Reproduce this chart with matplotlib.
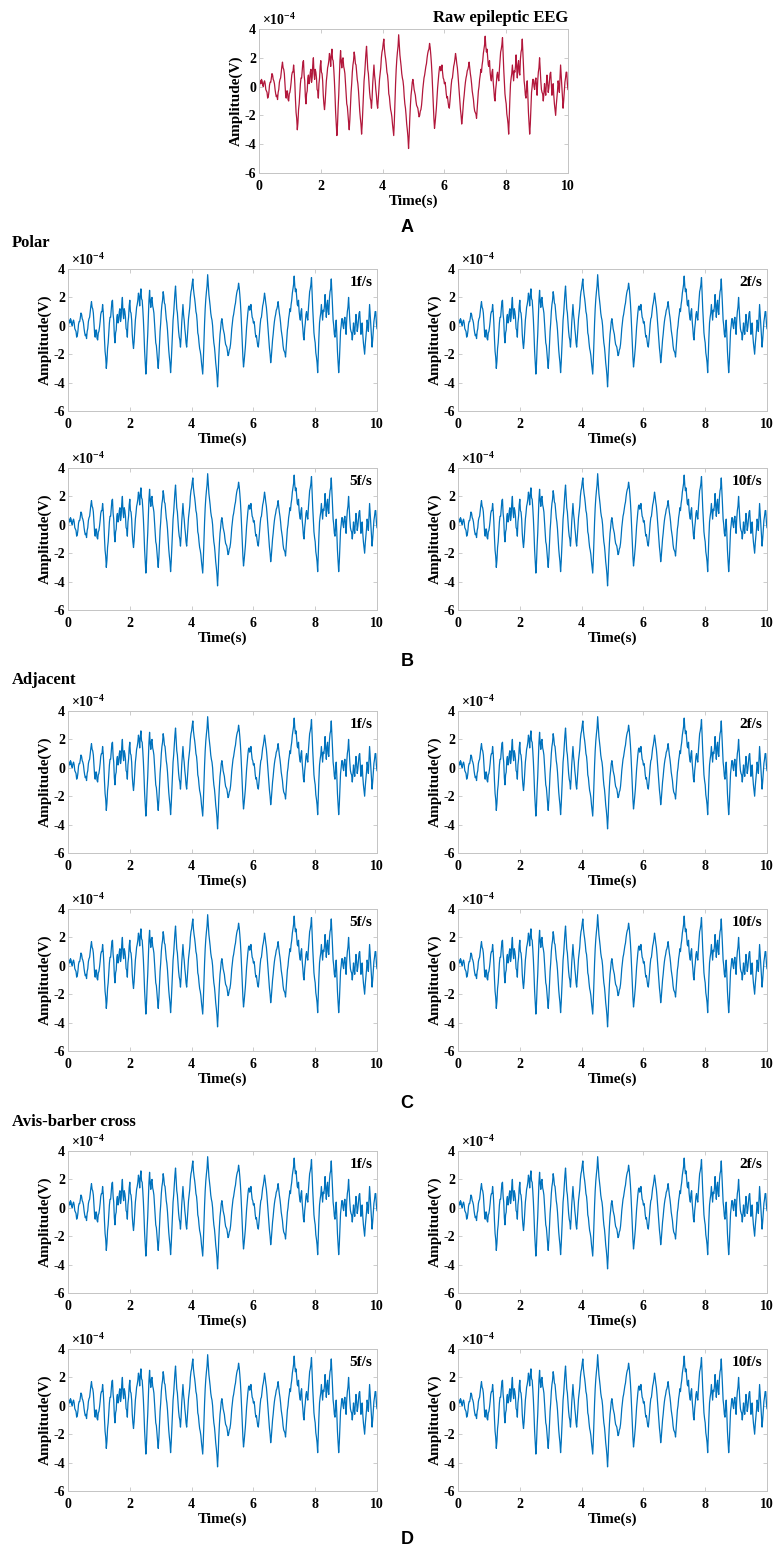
import numpy as np
import matplotlib.pyplot as plt
from matplotlib.ticker import FuncFormatter

# EEG segment, 10 s, amplitude in units of 1e-4 V
# samples at 0, 0.04, 0.08, ... s
amp_1e4 = [
    -0.5, 0.4, 0.5, 0.1, 0.3, 0.2, -0.3, -0.8, -0.4, 0.3,
    0.6, 0.8, 0.4, -0.2, -0.7, -0.9, -0.2, 0.5, 1.0, 1.7,
    1.2, 0.2, -0.8, -0.3, -1.0,
    -0.4, 0.3, 1.0, 1.5, 0.2, -1.8, -3.0, -1.6, -0.5, 0.6,
    1.2, 1.8, 0.4, -1.2, -0.3, 0.8, 0.4, 1.2, 0.6, 2.0,
    0.5, 1.0, -0.2, -0.8, 0.6,
    1.8, 0.9, -0.6, -1.6, -0.4, 0.8, 1.5, 2.3, 1.4, 2.6,
    1.8, 0.4, -1.8, -3.4, -1.5, 0.6, 2.5, 1.3, 2.0, 1.2,
    0.2, -1.2, -2.0, -3.0, -1.4,
    0.2, 1.5, 2.4, 1.6, 1.0, 0.2, -1.0, -2.2, -3.3, -1.6,
    0.4, 1.6, 2.8, 1.2, 0.2, -0.8, -1.5, 0.2, 1.5, 0.4,
    -0.6, -1.5, -0.2, 0.9, 2.0,
    2.6, 3.3, 2.2, 1.5, 0.8, -0.5, -1.2, -1.8, -2.6, -3.4,
    -1.0, 1.2, 2.4, 3.6, 2.2, 1.4, 0.6, 0.0, -1.2, -2.0,
    -3.0, -4.3, -2.2, -0.6, 0.3,
    0.2, -0.4, -1.0, -1.4, -1.8, -2.0, -1.6, -0.8, 0.2, 0.8,
    1.4, 2.0, 2.5, 3.0, 2.2, 0.8, -1.2, -2.9, -2.0, -0.8,
    0.4, 1.3, 1.1, 1.5, 0.6,
    0.2, 0.0, -0.8, -1.1, -1.5, -0.4, 0.5, 1.0, 1.6, 2.3,
    1.6, 0.8, -0.4, -1.6, -2.6, -1.6, -0.6, 0.3, 0.8, 1.2,
    1.7, 0.9, 0.2, -0.6, -1.4,
    -1.8, -2.2, -0.9, 0.0, 0.8, 1.0, 1.8, 2.6, 3.5, 2.4,
    2.0, 1.4, 1.0, 0.4, 1.2, -0.2, -1.0, 0.2, 1.0, 0.4,
    1.8, 2.6, 3.4, 1.2, -0.5,
    -1.2, -2.2, -3.3, -0.8, 0.6, 1.5, 0.4, 1.0, 2.2, 0.6,
    1.8, 0.8, 2.4, 3.3, 1.4, 0.0, -0.8, 0.4, -1.8, -3.3,
    -1.4, 0.0, 0.5, -0.2, 0.6,
    -0.6, 1.0, 2.0, 0.4, -0.4, -1.0, 0.2, -0.6, 0.8, -0.4,
    0.4, 1.0, -0.6, 0.2, -1.2, -2.0, -0.8, 0.4, -0.4, 1.5,
    0.2, -1.5, -0.4, 0.6, 1.0, -0.2,
]
# samples at 0.02, 0.06, 0.10, ... s (between the ones above)
amp_mid_1e4 = [
    0.2, 0.2, 0.4, 0.0, 0.4, -0.2, -0.4, -0.7, 0.1, 0.3,
    0.9, 0.5, 0.2, -0.5, -0.6, -0.4, 0.3, 0.6, 1.4, 1.3,
    0.9, -0.5, -0.3, -0.9, -0.5,
    -0.1, 0.8, 1.0, 1.0, -0.9, -2.2, -2.5, -1.2, 0.2, 0.6,
    1.7, 0.8, -0.7, -0.5, 0.6, 0.2, 1.0, 0.3, 1.5, 0.9,
    1.2, 0.6, -0.3, 0.2, 1.4,
    1.0, 0.4, -1.2, -1.1, 0.4, 1.3, 1.8, 2.0, 2.2, 1.9,
    1.2, -0.6, -2.6, -2.7, -0.6, 1.8, 1.7, 1.9, 1.4, 0.9,
    -0.6, -1.4, -2.5, -2.3, -0.4,
    1.0, 1.8, 2.1, 1.5, 0.5, -0.3, -1.7, -2.6, -2.6, -0.5,
    0.9, 2.3, 2.0, 0.9, -0.4, -1.0, -0.8, 0.9, 0.8, -0.2,
    -1.2, -0.9, 0.5, 1.3, 2.4,
    3.0, 2.6, 1.9, 1.0, 0.3, -0.7, -1.6, -2.1, -3.0, -2.4,
    0.2, 1.9, 2.8, 2.9, 1.8, 0.9, 0.4, -0.7, -1.5, -2.6,
    -3.5, -3.4, -1.3, -0.2, 0.5,
    -0.2, -0.6, -1.3, -1.5, -2.1, -1.7, -1.3, -0.2, 0.6, 1.1,
    1.6, 2.3, 2.6, 2.7, 1.6, -0.2, -2.2, -2.5, -1.5, -0.1,
    0.9, 1.4, 1.2, 1.0, 0.5,
    0.3, -0.5, -0.7, -1.4, -1.0, 0.1, 0.6, 1.4, 1.9, 2.0,
    1.3, 0.2, -1.1, -2.0, -2.2, -1.0, -0.1, 0.6, 1.1, 1.4,
    1.3, 0.6, -0.3, -0.9, -1.7,
    -1.9, -1.6, -0.3, 0.5, 1.2, 1.5, 2.3, 2.9, 2.8, 2.6,
    1.5, 1.8, 0.6, 1.0, 0.3, -0.8, -0.2, 0.8, 0.6, 1.2,
    2.4, 2.9, 2.2, 0.3, -0.9,
    -1.9, -2.6, -2.0, 0.2, 0.9, 0.9, 1.1, 1.4, 1.3, 1.5,
    1.0, 1.9, 2.6, 2.4, 0.4, -0.6, -0.1, -0.6, -2.6, -2.6,
    -0.4, 0.5, 0.0, 0.4, 0.1,
    0.4, 1.3, 1.2, -0.2, -0.5, -0.5, -0.3, 0.2, 0.3, -0.1,
    0.9, 0.2, -0.3, -0.6, -1.6, -1.3, -0.3, 0.1, 0.6, 0.8,
    -0.7, -1.0, 0.3, 1.0, 0.2,
]
sample_step = 0.02

frame_rates = ["1f/s", "2f/s", "5f/s", "10f/s"]
group_names = ["Polar", "Adjacent", "Avis-barber cross"]
panel_letters = ["A", "B", "C", "D"]

trace = np.empty(len(amp_1e4) + len(amp_mid_1e4))
trace[0::2] = amp_1e4
trace[1::2] = amp_mid_1e4
signal = trace * 1e-4
t = np.arange(len(signal)) * sample_step

plt.rcParams['font.family'] = ['Liberation Serif', 'DejaVu Serif']
plt.rcParams['font.weight'] = 'bold'
plt.rcParams['mathtext.fontset'] = 'custom'
plt.rcParams['mathtext.rm'] = 'Liberation Serif'
plt.rcParams['mathtext.it'] = 'Liberation Serif:italic'

W, H = 776, 1550
fig = plt.figure(figsize=(W / 100, H / 100), dpi=100)


def box(left, top, w=309, h=142):
    return [left / W, 1 - (top + h) / H, w / W, h / H]


def style(ax):
    ax.set_xlim(0, 10)
    ax.set_ylim(-6e-4, 4e-4)
    ax.set_xticks(np.arange(0, 11, 2))
    ax.set_yticks(np.arange(-6, 5, 2) * 1e-4)
    ax.yaxis.set_major_formatter(FuncFormatter(lambda v, p: f"{round(v / 1e-4):d}"))
    ax.tick_params(direction='in', top=True, right=True, length=3, width=0.5,
                   color='#b8b8b8', labelsize=10)
    ax.tick_params(axis='x', pad=5)
    ax.tick_params(axis='y', pad=2)
    for s in ax.spines.values():
        s.set_color('#c4c4c4')
        s.set_linewidth(0.7)
    ax.set_xlabel('Time(s)', fontsize=11, fontweight='bold', labelpad=1)
    ax.set_ylabel('Amplitude(V)', fontsize=11, fontweight='bold', labelpad=1)
    ax.text(0.01, 1.01, r'$\times10^{-4}$', transform=ax.transAxes,
            fontsize=10, ha='left', va='bottom')


# raw recording
ax = fig.add_axes(box(259, 29, 309, 144))
ax.plot(t, signal, color='#B2173B', linewidth=0.9)
style(ax)
ax.text(1.0, 1.02, 'Raw epileptic EEG', transform=ax.transAxes,
        ha='right', va='bottom', fontsize=12, fontweight='bold')

# reconstructions: three schemes, four frame rates each
row_tops = [(269, 468), (711, 909), (1151, 1349)]
col_lefts = [68, 458]
group_title_y = [243, 680, 1122]
for g, name in enumerate(group_names):
    fig.text(12 / W, 1 - group_title_y[g] / H, name, ha='left', va='center',
             fontsize=12, fontweight='bold')
    for k, rate in enumerate(frame_rates):
        top = row_tops[g][k // 2]
        left = col_lefts[k % 2]
        ax = fig.add_axes(box(left, top))
        ax.plot(t, signal, color='#0072BD', linewidth=0.9)
        style(ax)
        ax.text(0.985, 0.95, rate, transform=ax.transAxes, ha='right', va='top',
                fontsize=11, fontweight='bold')

letter_y = [228, 662, 1104, 1540]
for letter, y in zip(panel_letters, letter_y):
    fig.text(407 / W, 1 - y / H, letter, ha='center', va='center',
             fontsize=13, fontweight='bold', family='Liberation Sans')

fig.savefig('out.png', dpi=100)
